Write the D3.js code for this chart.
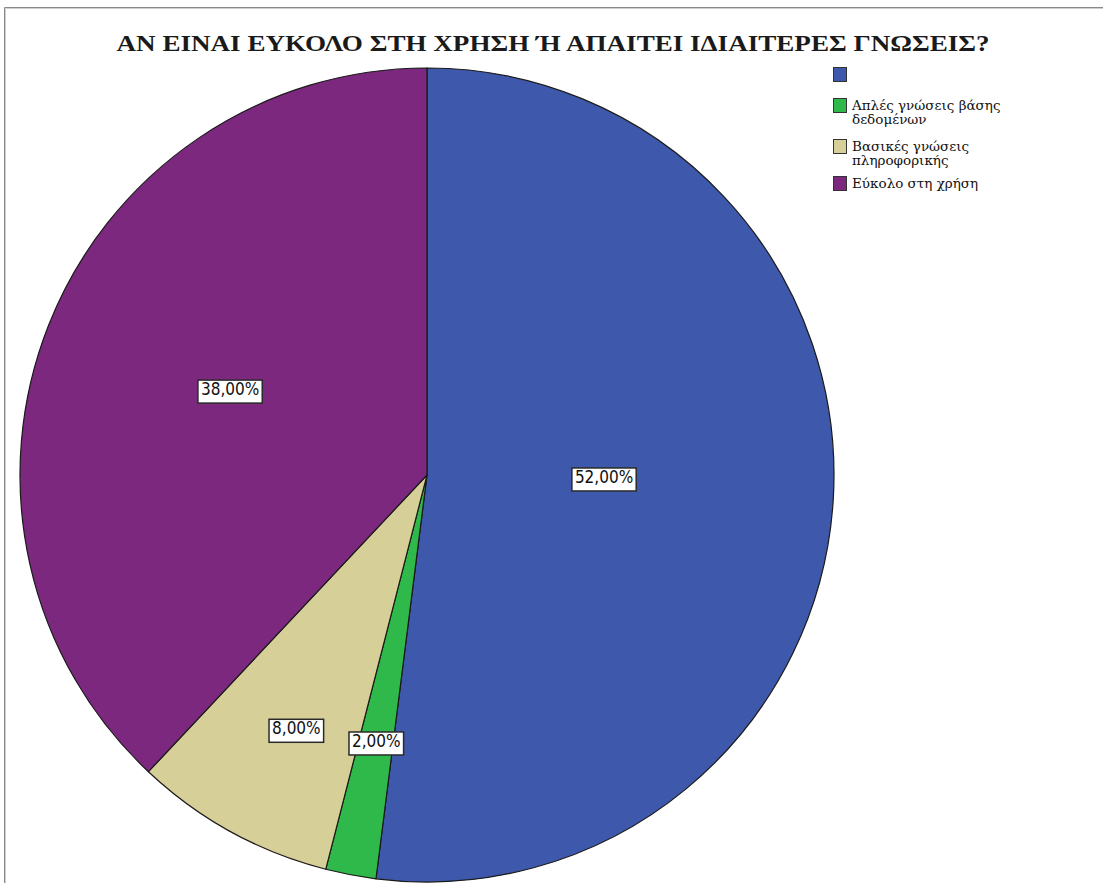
<!DOCTYPE html>
<html><head><meta charset="utf-8">
<script src="https://cdn.jsdelivr.net/npm/d3@7"></script>
<style>body{margin:0;background:#fff;}svg{display:block;}</style>
</head><body>
<script>
const categories = ["", "Απλές γνώσεις βάσης δεδομένων", "Βασικές γνώσεις πληροφορικής", "Εύκολο στη χρήση"];
const legendLines = [[""], ["Απλές γνώσεις βάσης", "δεδομένων"], ["Βασικές γνώσεις", "πληροφορικής"], ["Εύκολο στη χρήση"]];
const values = [52, 2, 8, 38];
const valueLabels = ["52,00%", "2,00%", "8,00%", "38,00%"];
const colors = ["#3e58ac", "#2fb94a", "#d6cf98", "#7b287e"];
const labelRadiusFrac = [0.435, 0.665, 0.70, 0.528];
const labelAngleShiftDeg = [-3, 0, -1.5, 2];
const title = "ΑΝ ΕΙΝΑΙ ΕΥΚΟΛΟ ΣΤΗ ΧΡΗΣΗ Ή ΑΠΑΙΤΕΙ ΙΔΙΑΙΤΕΡΕΣ ΓΝΩΣΕΙΣ?";

const W = 1103, H = 883;
const svg = d3.select("body").append("svg").attr("width", W).attr("height", H);
svg.append("rect").attr("width", W).attr("height", H).attr("fill", "#fff");

// frame
svg.append("path").attr("d", `M4.5,${H} V7.5 H${W}`).attr("fill","none").attr("stroke","#8a8a8a").attr("stroke-width",1);
svg.append("path").attr("d", `M5.5,${H} V8.5 H${W}`).attr("fill","none").attr("stroke","#cfcfcf").attr("stroke-width",1);

svg.append("text").attr("x", 553).attr("y", 51).attr("text-anchor","middle")
  .attr("font-family","Liberation Serif, DejaVu Serif, serif").attr("font-size", 23).attr("font-weight","bold")
  .attr("textLength", 873).attr("lengthAdjust","spacingAndGlyphs")
  .attr("fill","#1a1a1a").text(title);

const cx = 427, cy = 475, R = 407;
const pie = d3.pie().sort(null).value(d => d);
const arcs = pie(values);
const arc = d3.arc().innerRadius(0).outerRadius(R);
const g = svg.append("g").attr("transform", `translate(${cx},${cy})`);
g.selectAll("path.slice").data(arcs).join("path").attr("class","slice")
  .attr("d", arc).attr("fill", (d,i) => colors[i])
  .attr("stroke", "#1a1a1a").attr("stroke-width", 1.2).attr("stroke-linejoin","round");

arcs.forEach((d, i) => {
  const a = (d.startAngle + d.endAngle) / 2 + labelAngleShiftDeg[i] * Math.PI / 180;
  const r = R * labelRadiusFrac[i];
  const x = Math.sin(a) * r, y = -Math.cos(a) * r;
  const lg = g.append("g").attr("transform", `translate(${x},${y})`);
  const t = lg.append("text").attr("text-anchor","middle").attr("dy","0.36em")
    .attr("font-family","DejaVu Sans Condensed, DejaVu Sans, sans-serif").attr("font-size", 17).attr("fill","#111")
    .text(valueLabels[i]);
  const bb = t.node().getBBox();
  lg.insert("rect", "text").attr("x", bb.x - 3).attr("y", bb.y + 1)
    .attr("width", bb.width + 6).attr("height", bb.height + 3)
    .attr("fill", "#fff").attr("stroke", "#2a2a2a").attr("stroke-width", 1.5);
});

// legend
const legY = [67, 98, 139, 176];
const leg = svg.append("g");
categories.forEach((c, i) => {
  leg.append("rect").attr("x", 833.5).attr("y", legY[i] + 0.5).attr("width", 13).attr("height", 14)
    .attr("fill", colors[i]).attr("stroke", "#333").attr("stroke-width", 1);
  legendLines[i].forEach((ln, j) => {
    leg.append("text").attr("x", 852).attr("y", legY[i] + 12 + j * 14)
      .attr("font-family","DejaVu Serif, serif").attr("font-size", 13.5)
      .attr("fill","#111").text(ln);
  });
});
</script>
</body></html>
